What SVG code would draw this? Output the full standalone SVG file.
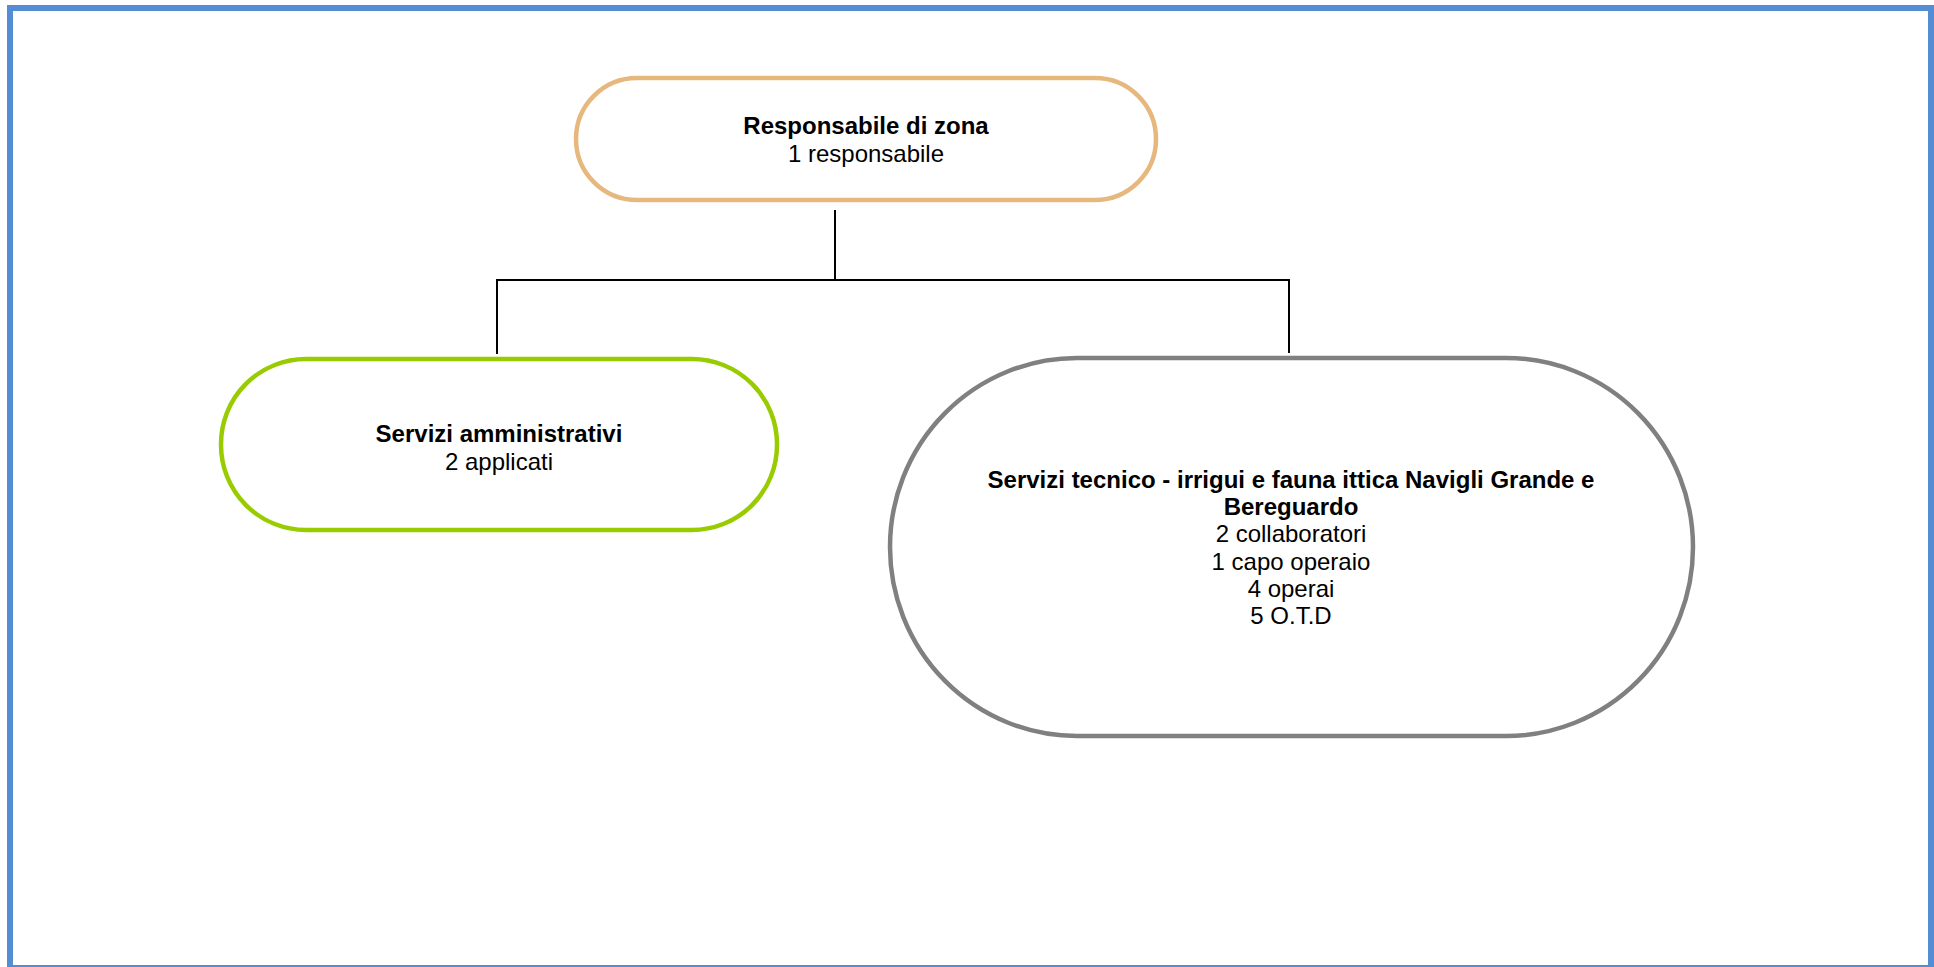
<svg xmlns="http://www.w3.org/2000/svg" width="1934" height="967" viewBox="0 0 1934 967">
<style>
text{font-family:"Liberation Sans",Arial,sans-serif;font-size:24px;fill:#000;text-anchor:middle}
.b{font-weight:bold}
.node{fill:#fff;stroke-width:4.5}
.conn{fill:none;stroke:#000;stroke-width:2}
</style>
<rect x="0" y="0" width="1934" height="967" fill="#fff"/>
<rect x="10" y="8" width="1921" height="960" fill="none" stroke="#548DD4" stroke-width="6"/>
<g id="connectors">
<path class="conn" d="M835 210 V280"/>
<path class="conn" d="M497 354 V280 H1289 V353"/>
</g>
<g id="n-responsabile">
<rect class="node" x="576" y="78" width="580" height="122" rx="61" ry="61" stroke="#E6B87E"/>
<text x="866" y="134" class="b">Responsabile di zona</text>
<text x="866" y="162">1 responsabile</text>
</g>
<g id="n-amministrativi">
<rect class="node" x="221" y="359" width="556" height="171" rx="85" ry="85" stroke="#99CC00"/>
<text x="499" y="442" class="b">Servizi amministrativi</text>
<text x="499" y="470">2 applicati</text>
</g>
<g id="n-tecnico">
<rect class="node" x="890" y="358" width="803" height="378" rx="187" ry="189" stroke="#808080"/>
<text x="1291" y="488" class="b">Servizi tecnico - irrigui e fauna ittica Navigli Grande e</text>
<text x="1291" y="515" class="b">Bereguardo</text>
<text x="1291" y="542">2 collaboratori</text>
<text x="1291" y="570">1 capo operaio</text>
<text x="1291" y="597">4 operai</text>
<text x="1291" y="624">5 O.T.D</text>
</g>
</svg>
